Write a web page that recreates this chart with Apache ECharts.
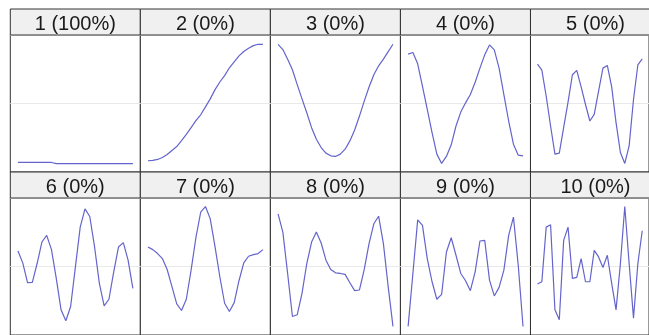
<!DOCTYPE html>
<html>
<head>
<meta charset="utf-8">
<script src="https://cdn.jsdelivr.net/npm/echarts@6/dist/echarts.min.js"></script>
<style>
html,body{margin:0;padding:0;background:#fff;}
#chart{width:649px;height:335px;}
</style>
</head>
<body>
<div id="chart"></div>
<script>
// ---- data ----
const panelLabels = ['1 (100%)','2 (0%)','3 (0%)','4 (0%)','5 (0%)','6 (0%)','7 (0%)','8 (0%)','9 (0%)','10 (0%)'];
const xs = [0,1,2,3,4,5,6,7,8,9,10,11,12,13,14,15,16,17,18,19,20,21,22,23,24];
const s1 = [-0.99,-0.99,-0.99,-0.99,-0.99,-0.99,-0.99,-0.99,-1.01,-1.01,-1.01,-1.01,-1.01,-1.01,-1.01,-1.01,-1.01,-1.01,-1.01,-1.01,-1.01,-1.01,-1.01,-1.01,-1.01];
const s2 = [-0.961,-0.956,-0.939,-0.906,-0.856,-0.789,-0.722,-0.622,-0.517,-0.406,-0.289,-0.189,-0.056,0.078,0.233,0.361,0.467,0.600,0.700,0.800,0.872,0.928,0.972,0.994,0.994];
const s3 = [0.994,0.906,0.744,0.567,0.317,0.078,-0.156,-0.406,-0.600,-0.739,-0.833,-0.878,-0.889,-0.850,-0.767,-0.628,-0.444,-0.211,0.039,0.278,0.483,0.633,0.744,0.872,0.994];
const s4 = [0.828,0.856,0.667,0.289,-0.100,-0.489,-0.850,-1.006,-0.889,-0.694,-0.378,-0.144,0.011,0.150,0.356,0.594,0.817,0.983,0.900,0.594,0.150,-0.294,-0.683,-0.867,-0.878];
const s5 = [0.661,0.561,0.122,-0.378,-0.850,-0.833,-0.400,0.022,0.483,0.556,0.278,-0.017,-0.294,-0.183,0.206,0.594,0.639,0.278,-0.322,-0.822,-1.006,-0.711,0.067,0.650,0.750];
const s6 = [0.261,0.061,-0.272,-0.267,0.050,0.411,0.522,0.283,-0.200,-0.728,-0.911,-0.672,-0.006,0.661,0.967,0.839,0.328,-0.283,-0.661,-0.550,-0.089,0.328,0.400,0.106,-0.367];
const s7 = [0.328,0.283,0.217,0.133,-0.050,-0.339,-0.628,-0.739,-0.550,-0.061,0.483,0.911,1.006,0.800,0.328,-0.172,-0.617,-0.756,-0.606,-0.239,0.061,0.172,0.200,0.217,0.283];
const s8 = [0.883,0.578,-0.117,-0.839,-0.811,-0.450,0.050,0.411,0.578,0.394,0.106,-0.050,-0.106,-0.117,-0.133,-0.272,-0.406,-0.394,-0.050,0.383,0.717,0.844,0.383,-0.339,-1.006];
const s9 = [-1.006,-0.117,0.783,0.689,0.133,-0.256,-0.550,-0.467,0.244,0.483,0.189,-0.117,-0.239,-0.406,-0.089,0.428,0.439,-0.228,-0.494,-0.350,-0.061,0.522,0.828,0.022,-1.006];
const s10 = [-0.294,-0.256,0.661,0.700,-0.728,-0.894,0.439,0.661,-0.200,-0.183,0.133,-0.256,-0.256,0.272,0.161,-0.017,0.189,-0.283,-0.728,0.050,1.006,0.050,-0.867,0.050,0.600];
const seriesValues = [s1,s2,s3,s4,s5,s6,s7,s8,s9,s10];

// ---- layout / style ----
const left0 = 10.3, colW = 130.05, rowTops = [9, 172], stripH = 26, bodyH = 137, panelW = 130;
const lineColor = '#6464cc';
const borderColor = '#333333';

const grids = [], xAxes = [], yAxes = [], series = [], graphics = [];
seriesValues.forEach((vals, k) => {
  const r = Math.floor(k / 5), c = k % 5;
  const left = left0 + c * colW;
  const top = rowTops[r] + stripH;
  grids.push({left: left, top: top, width: panelW, height: bodyH, show: true,
    borderColor: borderColor, borderWidth: 1, backgroundColor: '#fff', containLabel: false});
  xAxes.push({gridIndex: k, type: 'value', min: -1.6, max: 25.55,
    axisLine: {show: false}, axisTick: {show: false}, axisLabel: {show: false}, splitLine: {show: false}});
  yAxes.push({gridIndex: k, type: 'value', min: -1.15, max: 1.15, interval: 1.15,
    axisLine: {show: false}, axisTick: {show: false}, axisLabel: {show: false},
    splitLine: {show: true, lineStyle: {color: '#e9e9e9', width: 1}}});
  series.push({type: 'line', xAxisIndex: k, yAxisIndex: k,
    data: xs.map((x, i) => [x, vals[i]]), showSymbol: false, symbol: 'none',
    lineStyle: {color: lineColor, width: 1.2}, silent: true, clip: true});
  graphics.push({type: 'rect', shape: {x: left, y: rowTops[r], width: panelW, height: stripH},
    style: {fill: '#f0f0f0', stroke: borderColor, lineWidth: 1}, z: 10});
  graphics.push({type: 'text', x: left + panelW / 2, y: rowTops[r] + stripH / 2 + 2,
    style: {text: panelLabels[k], fill: '#1a1a1a', font: '20px "Liberation Sans", Arial, sans-serif',
      textAlign: 'center', textVerticalAlign: 'middle'}, z: 11});
});

const chart = echarts.init(document.getElementById('chart'), null, {renderer: 'canvas'});
chart.setOption({
  animation: false,
  backgroundColor: '#ffffff',
  grid: grids, xAxis: xAxes, yAxis: yAxes, series: series,
  graphic: graphics
});
</script>
</body>
</html>
